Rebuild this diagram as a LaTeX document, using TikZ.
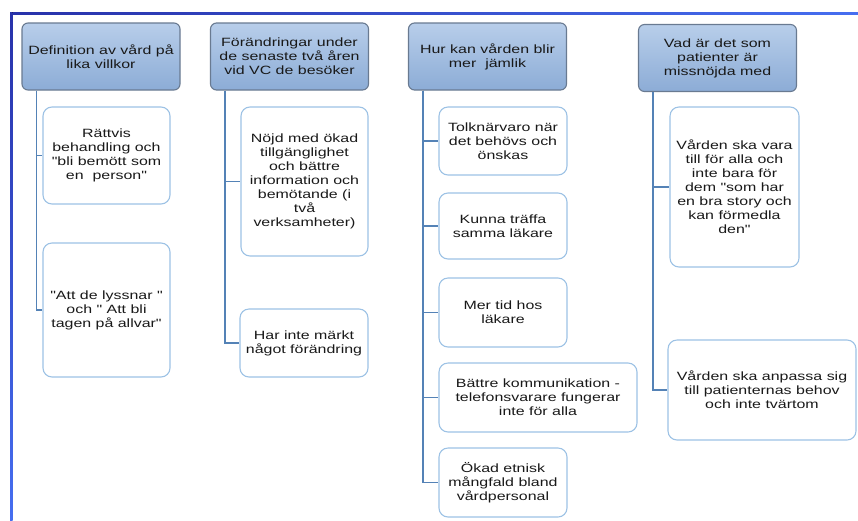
\documentclass[tikz,border=0pt]{standalone}
\usepackage{fontspec}
\setmainfont{Liberation Sans}[FakeStretch=1.33, Ligatures=TeXOff]
\usetikzlibrary{positioning}
\definecolor{hdrtop}{RGB}{184,206,234}
\definecolor{hdrbot}{RGB}{140,172,214}
\definecolor{hdrline}{RGB}{105,122,145}
\definecolor{leafline}{RGB}{157,194,229}
\definecolor{linkblue}{RGB}{84,130,182}
\definecolor{framedark}{RGB}{40,50,170}
\definecolor{framelight}{RGB}{70,110,240}

\begin{document}
\begin{tikzpicture}[x=1pt, y=-1pt, every node/.style={font=\fontsize{12}{14}\selectfont, text=black!90}]
  \tikzset{
    header/.style={draw=hdrline, line width=1.1pt, rounded corners=6pt, top color=hdrtop, bottom color=hdrbot, minimum width=158pt, minimum height=67pt, align=center, inner sep=2pt},
    leaf/.style={draw=leafline, line width=1.1pt, rounded corners=9pt, fill=white, align=center, inner sep=2pt},
    link/.style={draw=linkblue, line width=1.4pt}
  }
  \useasboundingbox (0,0) rectangle (858,520);

  % frame
  \fill[left color=framedark, right color=framelight] (10,12) rectangle (858,14.5);
  \fill[top color=framedark, bottom color=framelight] (10,12) rectangle (12.5,520);

  % headers
  \node[header] (h1) at (101,56.5)   {Definition av vård på\\lika villkor};
  \node[header] (h2) at (289.5,56.5) {Förändringar under\\de senaste två åren\\vid VC de besöker};
  \node[header] (h3) at (487.5,56.5) {Hur kan vården blir\\mer\ \ jämlik};
  \node[header] (h4) at (717.5,58)   {Vad är det som\\patienter är\\missnöjda med};

  % column 1
  \node[leaf, minimum width=127pt, minimum height=97pt]  (c11) at (106.5,155.5) {Rättvis\\behandling och\\"bli bemött som\\en\ \ person"};
  \node[leaf, minimum width=127pt, minimum height=134pt] (c12) at (106.5,310)   {"Att de lyssnar "\\och " Att bli\\tagen på allvar"};

  % column 2
  \node[leaf, minimum width=127pt, minimum height=149pt] (c21) at (304.5,181.5) {Nöjd med ökad\\tillgänglighet\\och bättre\\information och\\bemötande (i\\två\\verksamheter)};
  \node[leaf, minimum width=128pt, minimum height=68pt]  (c22) at (304,343)     {Har inte märkt\\något förändring};

  % column 3
  \node[leaf, minimum width=128pt, minimum height=68pt] (c31) at (503,141)   {Tolknärvaro när\\det behövs och\\önskas};
  \node[leaf, minimum width=128pt, minimum height=66pt] (c32) at (503,226)   {Kunna träffa\\samma läkare};
  \node[leaf, minimum width=128pt, minimum height=69pt] (c33) at (503,312.5) {Mer tid hos\\läkare};
  \node[leaf, minimum width=198pt, minimum height=69pt] (c34) at (538,397.5) {Bättre kommunikation -\\telefonsvarare fungerar\\inte för alla};
  \node[leaf, minimum width=128pt, minimum height=69pt] (c35) at (503,482.5) {Ökad etnisk\\mångfald bland\\vårdpersonal};

  % column 4
  \node[leaf, minimum width=129pt, minimum height=160pt] (c41) at (734.5,187) {Vården ska vara\\till för alla och\\inte bara för\\dem "som har\\en bra story och\\kan förmedla\\den"};
  \node[leaf, minimum width=188pt, minimum height=100pt] (c42) at (762,390)   {Vården ska anpassa sig\\till patienternas behov\\och inte tvärtom};

  % trunks
  \coordinate (t1) at ([xshift=15pt]h1.south west);
  \coordinate (t2) at ([xshift=15pt]h2.south west);
  \coordinate (t3) at ([xshift=15pt]h3.south west);
  \coordinate (t4) at ([xshift=15pt]h4.south west);

  \draw[link] (t1) |- (c11.west);
  \draw[link] (t1) |- (c12.west);
  \draw[link] (t2) |- (c21.west);
  \draw[link] (t2) |- (c22.west);
  \foreach \i in {1,...,5}
    \draw[link] (t3) |- (c3\i.west);
  \draw[link] (t4) |- (c41.west);
  \draw[link] (t4) |- (c42.west);
\end{tikzpicture}
\end{document}
